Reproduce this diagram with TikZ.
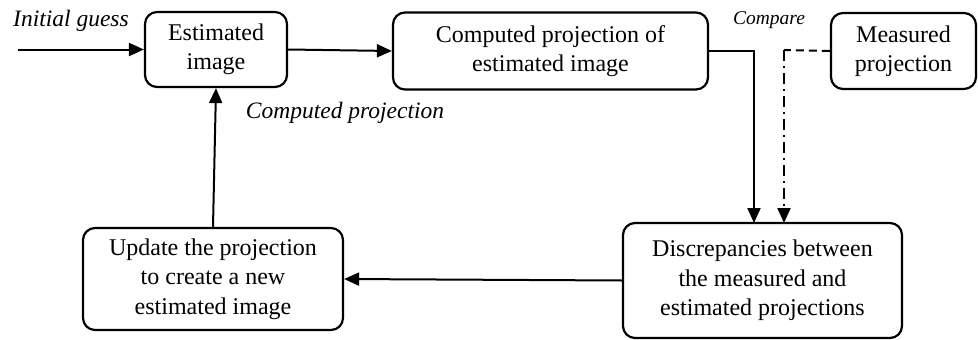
\documentclass[tikz,border=0pt]{standalone}
\usepackage{fontspec}
\setmainfont{Liberation Serif}
\usetikzlibrary{arrows.meta}
\begin{document}
\begin{tikzpicture}[x=1pt,y=-1pt,
  box/.style={draw,line width=2.2pt,rounded corners=12pt,align=center,inner sep=0pt,
    font=\fontsize{24}{29.5}\selectfont},
  conn/.style={line width=2pt,-{Triangle[length=15pt,width=13pt]}},
  lbl/.style={font=\fontsize{23.5}{29}\selectfont\itshape}]
\useasboundingbox (0,0) rectangle (978,340);
\node[box,minimum width=142pt,minimum height=75pt] (est) at (216,49.5) {Estimated\\image};
\node[box,minimum width=315pt,minimum height=77pt] (comp) at (550.5,51) {Computed projection of\\estimated image};
\node[box,minimum width=145pt,minimum height=76pt] (meas) at (903.5,51) {Measured\\projection};
\node[box,minimum width=279pt,minimum height=115pt] (disc) at (762.5,280.5) {Discrepancies between\\the measured and\\estimated projections};
\node[box,minimum width=260pt,minimum height=102pt] (upd) at (213,279) {Update the projection\\to create a new\\estimated image};
\coordinate (start) at (18,49.5);
\coordinate (c1) at (754,223);
\coordinate (m1) at (784,50);
\coordinate (c2) at (784,223);
\node[lbl] (lig) at (71,21) {Initial guess};
\node[lbl,font=\fontsize{19.5}{24}\selectfont\itshape] (lcmp) at (769,20) {Compare};
\node[lbl] (lcp) at (345,113) {Computed projection};
\draw[conn] (start) -- (est.west);
\draw[conn] (est.east) -- (comp.west);
\draw[conn] (comp.east) -| (c1);
\draw[line width=2pt,dash pattern=on 8pt off 5pt] (meas.west) -- (m1);
\draw[conn,dash pattern=on 11pt off 5pt on 2pt off 5pt] (m1) -- (c2);
\draw[conn] (disc.west) -- (upd.east);
\draw[conn] (upd.north) -- (est.south);
\end{tikzpicture}
\end{document}
